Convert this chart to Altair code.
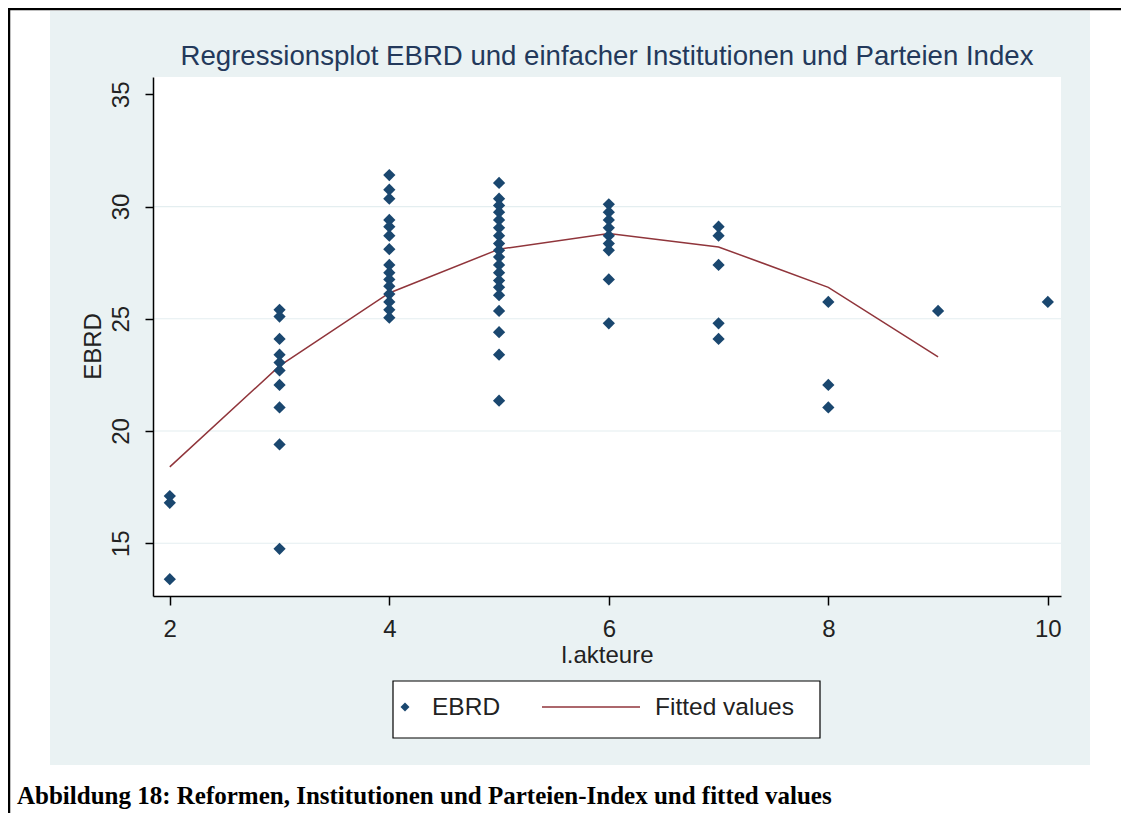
import altair as alt
import pandas as pd

# ---- data ----
akteure_levels = [2, 3, 4, 5, 6, 7, 8, 9, 10]
ebrd_by_level = [
    [17.1, 16.8, 13.4],
    [25.4, 25.1, 24.1, 23.4, 23.05, 22.7, 22.05, 21.05, 19.4, 14.75],
    [31.4, 30.75, 30.35, 29.4, 29.1, 28.7, 28.1, 27.4, 27.05, 26.75, 26.45, 26.1, 25.75, 25.4, 25.05],
    [31.05, 30.35, 30.05, 29.75, 29.4, 29.05, 28.7, 28.35, 28.05, 27.75, 27.4, 27.05, 26.7, 26.4,
     26.05, 25.35, 24.4, 23.4, 21.35],
    [30.1, 29.75, 29.4, 29.05, 28.7, 28.35, 28.05, 26.75, 24.8],
    [29.1, 28.7, 27.4, 24.8, 24.1],
    [25.75, 22.05, 21.05],
    [25.35],
    [25.75],
]
fit_x = [2, 3, 4, 5, 6, 7, 8, 9]
fit_y = [18.4, 22.9, 26.15, 28.1, 28.8, 28.2, 26.4, 23.3]
x_ticks = [2, 4, 6, 8, 10]
y_ticks = [15, 20, 25, 30, 35]
grid_vals = [15, 20, 25, 30]

title_text = "Regressionsplot EBRD und einfacher Institutionen und Parteien Index"
caption_text = "Abbildung 18: Reformen, Institutionen und Parteien-Index und fitted values"
x_title = "l.akteure"
y_title = "EBRD"
legend_labels = ["EBRD", "Fitted values"]

# ---- tables ----
rows = []
for lvl, vals in zip(akteure_levels, ebrd_by_level):
    for v in vals:
        rows.append({"akteure": lvl, "ebrd": v})
pts = pd.DataFrame(rows)
fit = pd.DataFrame({"akteure": fit_x, "ebrd": fit_y})
grid = pd.DataFrame({"ebrd": grid_vals})
one = pd.DataFrame({"a": [0]})

NAVY = "#1A476F"
MAROON = "#90353B"
BG = "#EAF2F3"
FONT = "Liberation Sans"
W, H = 908, 519

xscale = alt.Scale(domain=[1.847, 10.12], nice=False, zero=False)
yscale = alt.Scale(domain=[12.65, 35.77], nice=False, zero=False)

x_axis = alt.Axis(values=x_ticks, format="d", title=x_title, grid=False,
                  domainColor="black", domainWidth=1.5,
                  tickColor="black", tickWidth=1.5, tickSize=9,
                  labelFont=FONT, labelFontSize=24, labelColor="#222",
                  labelBaseline="alphabetic", labelPadding=31,
                  labelFlush=False,
                  titleFont=FONT, titleFontSize=24, titleFontWeight="normal",
                  titleColor="#222", titleBaseline="alphabetic",
                  titleY=66, titleX=W / 2, zindex=1)
y_axis = alt.Axis(values=y_ticks, format="d", title=y_title, grid=False,
                  domainColor="black", domainWidth=1.5,
                  tickColor="black", tickWidth=1.5, tickSize=8,
                  labelFont=FONT, labelFontSize=24, labelColor="#222",
                  labelAngle=-90, labelAlign="center", labelBaseline="middle",
                  labelPadding=24, labelFlush=False,
                  titleFont=FONT, titleFontSize=24, titleFontWeight="normal",
                  titleColor="#222", titleAngle=-90, titleAlign="center",
                  titleBaseline="middle", titleX=-60, titleY=269, zindex=1)

# ---- decoration ----
gray_bg = alt.Chart(one).mark_rect(color=BG).encode(
    x=alt.value(-103), x2=alt.value(937), y=alt.value(-66), y2=alt.value(688))
white_plot = alt.Chart(one).mark_rect(color="white").encode(
    x=alt.value(0), x2=alt.value(W), y=alt.value(0), y2=alt.value(H))
border_top = alt.Chart(one).mark_rule(color="black", strokeWidth=2.5).encode(
    x=alt.value(-145), x2=alt.value(968), y=alt.value(-68))
border_left = alt.Chart(one).mark_rule(color="black", strokeWidth=2.5).encode(
    x=alt.value(-144), x2=alt.value(-144), y=alt.value(-69), y2=alt.value(740))

gridlines = alt.Chart(grid).mark_rule(color="#E4EEF0", strokeWidth=1.2).encode(
    y=alt.Y("ebrd:Q", scale=yscale, axis=y_axis))

fit_line = alt.Chart(fit).mark_line(color=MAROON, strokeWidth=1.5).encode(
    x=alt.X("akteure:Q", scale=xscale, axis=x_axis),
    y=alt.Y("ebrd:Q", scale=yscale, axis=y_axis))

points = alt.Chart(pts).mark_point(shape="diamond", filled=True, size=150,
                                   color=NAVY, opacity=1).encode(
    x=alt.X("akteure:Q", scale=xscale, axis=x_axis),
    y=alt.Y("ebrd:Q", scale=yscale, axis=y_axis),
)

title_mark = alt.Chart(one).mark_text(font=FONT, fontSize=27.6, color="#23395B",
                                      align="center", baseline="alphabetic").encode(
    x=alt.value(W / 2), y=alt.value(-12), text=alt.value(title_text))

caption = alt.Chart(one).mark_text(font="Liberation Serif", fontSize=25, fontWeight="bold",
                                   color="black", align="left", baseline="alphabetic").encode(
    x=alt.value(-136), y=alt.value(727), text=alt.value(caption_text))

# ---- legend ----
leg_box = alt.Chart(one).mark_rect(fill="white", stroke="black", strokeWidth=1.2).encode(
    x=alt.value(240), x2=alt.value(667), y=alt.value(604), y2=alt.value(661))
leg_pt = alt.Chart(one).mark_point(shape="diamond", filled=True, size=80, color=NAVY,
                                   opacity=1).encode(x=alt.value(252), y=alt.value(630))
leg_line = alt.Chart(one).mark_rule(color=MAROON, strokeWidth=1.5).encode(
    x=alt.value(389), x2=alt.value(487), y=alt.value(630))
leg_t1 = alt.Chart(one).mark_text(font=FONT, fontSize=24.5, color="#222", align="left",
                                  baseline="alphabetic").encode(
    x=alt.value(279), y=alt.value(638), text=alt.value(legend_labels[0]))
leg_t2 = alt.Chart(one).mark_text(font=FONT, fontSize=24.5, color="#222", align="left",
                                  baseline="alphabetic").encode(
    x=alt.value(502), y=alt.value(638), text=alt.value(legend_labels[1]))

chart = alt.layer(
    gray_bg, white_plot, border_top, border_left, gridlines, fit_line, points,
    title_mark, caption, leg_box, leg_pt, leg_line, leg_t1, leg_t2,
).properties(
    width=W, height=H,
    autosize=alt.AutoSizeParams(type="none"),
    padding={"left": 145, "top": 69, "right": 60, "bottom": 217},
).configure_view(strokeWidth=0).configure(background="white")

chart.save("out.html", embed_options={"renderer": "svg", "actions": False})
